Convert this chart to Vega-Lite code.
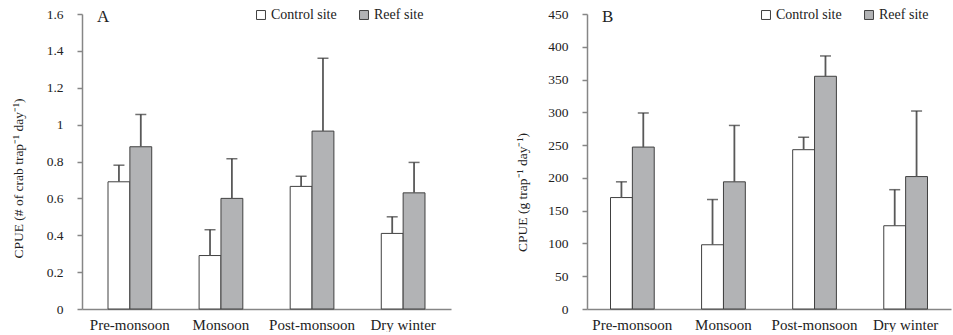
{
  "$schema": "https://vega.github.io/schema/vega-lite/v6.json",
  "padding": {"left": 11, "top": 7, "right": 5, "bottom": 0},
  "background": "white",
  "spacing": 64,
  "config": {
    "font": "Liberation Serif",
    "view": {"stroke": null},
    "axis": {"grid": false, "domainColor": "#868686", "domainWidth": 1.5, "tickColor": "#868686", "tickWidth": 1.5, "labelColor": "#222222", "titleColor": "#222222", "labelFont": "Liberation Serif", "titleFont": "Liberation Serif", "titleFontWeight": "normal", "labelOverlap": false, "labelBound": false},
    "legend": {"labelFont": "Liberation Serif", "labelFontSize": 14, "labelColor": "#222222"},
    "title": {"font": "Liberation Serif", "fontWeight": "normal", "color": "#222222"}
  },
  "data": {"values": [
    {"panel": "A", "season": "Pre-monsoon", "site": "Control site", "value": 0.69, "upper": 0.78},
    {"panel": "A", "season": "Pre-monsoon", "site": "Reef site", "value": 0.88, "upper": 1.055},
    {"panel": "A", "season": "Monsoon", "site": "Control site", "value": 0.29, "upper": 0.43},
    {"panel": "A", "season": "Monsoon", "site": "Reef site", "value": 0.60, "upper": 0.815},
    {"panel": "A", "season": "Post-monsoon", "site": "Control site", "value": 0.665, "upper": 0.72},
    {"panel": "A", "season": "Post-monsoon", "site": "Reef site", "value": 0.965, "upper": 1.36},
    {"panel": "A", "season": "Dry winter", "site": "Control site", "value": 0.41, "upper": 0.50},
    {"panel": "A", "season": "Dry winter", "site": "Reef site", "value": 0.63, "upper": 0.795},
    {"panel": "B", "season": "Pre-monsoon", "site": "Control site", "value": 170, "upper": 194},
    {"panel": "B", "season": "Pre-monsoon", "site": "Reef site", "value": 247, "upper": 299},
    {"panel": "B", "season": "Monsoon", "site": "Control site", "value": 98, "upper": 167},
    {"panel": "B", "season": "Monsoon", "site": "Reef site", "value": 194, "upper": 280},
    {"panel": "B", "season": "Post-monsoon", "site": "Control site", "value": 243, "upper": 262},
    {"panel": "B", "season": "Post-monsoon", "site": "Reef site", "value": 355, "upper": 386},
    {"panel": "B", "season": "Dry winter", "site": "Control site", "value": 127, "upper": 182},
    {"panel": "B", "season": "Dry winter", "site": "Reef site", "value": 202, "upper": 302}
  ]},
  "resolve": {"legend": {"fill": "independent"}, "scale": {"x": "independent", "y": "independent"}},
  "hconcat": [
    {
      "width": 369,
      "height": 295,
      "title": {"text": "A", "anchor": "start", "frame": "group", "orient": "top", "offset": -19, "dx": 15, "fontSize": 17},
      "transform": [{"filter": "datum.panel === 'A'"}],
      "encoding": {
        "x": {"field": "season", "type": "nominal", "sort": ["Pre-monsoon", "Monsoon", "Post-monsoon", "Dry winter"],
              "scale": {"paddingInner": 0.52, "paddingOuter": 0.2855},
              "axis": {"title": null, "labelAngle": 0, "ticks": false, "labelFontSize": 15, "labelPadding": 8}},
        "xOffset": {"field": "site", "type": "nominal", "sort": ["Control site", "Reef site"], "scale": {"paddingInner": 0, "paddingOuter": 0}}
      },
      "layer": [
        {
          "mark": {"type": "bar", "stroke": "#404040", "strokeWidth": 1},
          "encoding": {
            "y": {"field": "value", "type": "quantitative", "scale": {"domain": [0, 1.6]},
                  "axis": {"title": "CPUE (# of crab trap⁻¹ day⁻¹)", "titleFontSize": 13.5, "titlePadding": 21, "titleY": 164, "values": [0, 0.2, 0.4, 0.6, 0.8, 1, 1.2, 1.4, 1.6], "tickCount": 20, "format": "~g", "labelFontSize": 13.5, "tickSize": 5, "labelPadding": 14, "labelOverlap": false}},
            "fill": {"field": "site", "type": "nominal", "scale": {"domain": ["Control site", "Reef site"], "range": ["#ffffff", "#b2b3b5"]},
                     "legend": {"title": null, "orient": "none", "legendX": 172, "legendY": -6, "direction": "horizontal", "symbolType": "square", "symbolSize": 80, "symbolStrokeColor": "#404040", "symbolStrokeWidth": 1, "columnPadding": 20, "labelOffset": 3, "padding": 0}}
          }
        },
        {
          "mark": {"type": "rule", "color": "#595959", "strokeWidth": 1.8},
          "encoding": {"y": {"field": "value", "type": "quantitative"}, "y2": {"field": "upper"}}
        },
        {
          "mark": {"type": "tick", "color": "#333333", "thickness": 1.5, "size": 11, "orient": "horizontal"},
          "encoding": {"y": {"field": "upper", "type": "quantitative"}}
        }
      ]
    },
    {
      "width": 364,
      "height": 295,
      "title": {"text": "B", "anchor": "start", "frame": "group", "orient": "top", "offset": -19, "dx": 15, "fontSize": 17},
      "transform": [{"filter": "datum.panel === 'B'"}],
      "encoding": {
        "x": {"field": "season", "type": "nominal", "sort": ["Pre-monsoon", "Monsoon", "Post-monsoon", "Dry winter"],
              "scale": {"paddingInner": 0.52, "paddingOuter": 0.258},
              "axis": {"title": null, "labelAngle": 0, "ticks": false, "labelFontSize": 15, "labelPadding": 8}},
        "xOffset": {"field": "site", "type": "nominal", "sort": ["Control site", "Reef site"], "scale": {"paddingInner": 0, "paddingOuter": 0}}
      },
      "layer": [
        {
          "mark": {"type": "bar", "stroke": "#404040", "strokeWidth": 1},
          "encoding": {
            "y": {"field": "value", "type": "quantitative", "scale": {"domain": [0, 450]},
                  "axis": {"title": "CPUE (g trap⁻¹ day⁻¹)", "titleFontSize": 13.5, "titlePadding": 18, "titleY": 178, "values": [0, 50, 100, 150, 200, 250, 300, 350, 400, 450], "tickCount": 20, "labelFontSize": 13.5, "tickSize": 5, "labelPadding": 14, "labelOverlap": false}},
            "fill": {"field": "site", "type": "nominal", "scale": {"domain": ["Control site", "Reef site"], "range": ["#ffffff", "#b2b3b5"]},
                     "legend": {"title": null, "orient": "none", "legendX": 172, "legendY": -6, "direction": "horizontal", "symbolType": "square", "symbolSize": 80, "symbolStrokeColor": "#404040", "symbolStrokeWidth": 1, "columnPadding": 20, "labelOffset": 3, "padding": 0}}
          }
        },
        {
          "mark": {"type": "rule", "color": "#595959", "strokeWidth": 1.8},
          "encoding": {"y": {"field": "value", "type": "quantitative"}, "y2": {"field": "upper"}}
        },
        {
          "mark": {"type": "tick", "color": "#333333", "thickness": 1.5, "size": 11, "orient": "horizontal"},
          "encoding": {"y": {"field": "upper", "type": "quantitative"}}
        }
      ]
    }
  ]
}
